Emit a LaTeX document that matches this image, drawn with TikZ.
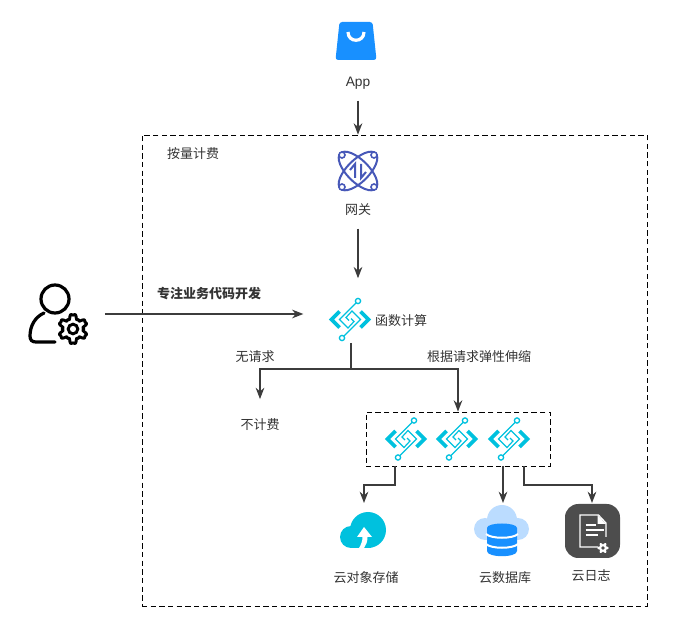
\documentclass[tikz,border=0pt]{standalone}
\usepackage{fontspec}
\setmainfont{Noto Sans CJK SC}
\newfontfamily\latinfont{Liberation Sans}
\usetikzlibrary{arrows.meta, positioning}
\definecolor{bagblue}{HTML}{1890FF}
\definecolor{gwblue}{HTML}{4758B8}
\definecolor{fncyan}{HTML}{00C1DE}
\definecolor{cloudlight}{HTML}{BBDCFF}
\definecolor{logdark}{HTML}{4D4D4D}
\definecolor{txtgray}{HTML}{333333}
\definecolor{linegray}{HTML}{3C3C3C}
\tikzset{%
	every label text/.style={
		inner sep=0pt,
		text height=8.5pt,
		text depth=0.5pt,
		text=txtgray,
		font=\fontsize{9.75pt}{11pt}\selectfont
	},
	iconbox/.style={
		inner sep=0pt,
		minimum size=#1*0.75pt
	},
	conn/.style={
		draw=linegray,
		line width=1.1pt,
		-{Stealth[length=8.5pt,width=6.5pt]}
	},
	dashbox/.style={
		draw=black,
		line width=0.6pt,
		dash pattern=on 4pt off 2.5pt,
		inner sep=0pt
	},
	fnicon/.pic={
		\draw[fncyan, line width=2.8pt, miter limit=4] (-10.5,-8) -- (-18.5,0) -- (-10.5,8);
		\draw[fncyan, line width=2.8pt, miter limit=4] (10.5,-8) -- (18.5,0) -- (10.5,8);
		\draw[fncyan, line width=0.9pt] (8,-18.5) -- (-10.5,0) -- (-2,8.5) -- (4,2) -- (1,-1);
		\draw[fncyan, line width=0.9pt] (-8,18.5) -- (10.5,0) -- (2,-8.5) -- (-4,-2) -- (-1,1);
		\draw[fncyan, line width=1pt, fill=white] (8,-18.5) circle (2.6);
		\draw[fncyan, line width=1pt, fill=white] (-8,18.5) circle (2.6);
	},
	bagicon/.pic={
		\fill[bagblue, rounded corners=2pt] (-16.5,-19) -- (16.5,-19) -- (20.5,19) -- (-20.5,19) -- cycle;
		\draw[white, line width=2.4pt] (-8,-9) .. controls (-8,2) and (8,2) .. (8,-9);
	},
	gwicon/.pic={
		\begin{scope}[rotate=45]
			\draw[gwblue, line width=1.5pt] (0,0) ellipse (25 and 11);
		\end{scope}
		\begin{scope}[rotate=-45]
			\draw[gwblue, line width=1.5pt] (0,0) ellipse (25 and 11);
		\end{scope}
		\foreach \px/\py in {-16/-16, 16/-16, -16/16, 16/16}
			\draw[gwblue, line width=1.2pt, fill=white] (\px,\py) circle (3);
		\draw[gwblue, line width=1.5pt] (-3,7) -- (-3,-7) -- (-8,-1);
		\draw[gwblue, line width=1.5pt] (3,-7) -- (3,7) -- (8,1);
	},
	usericon/.pic={
		\draw[black, line width=2.4pt] (-4,-15) circle (14);
		\draw[black, line width=2.4pt, line cap=round] (-15,-1) .. controls (-24,3) and (-29,12) .. (-29,22) .. controls (-29,26) and (-27,28) .. (-23,28) -- (-4,28);
		\draw[black, line width=2.2pt, fill=white, line join=round] plot[domain=0:360, samples=181] ({14+(12.3+2.4*(-cos(6*\x)+cos(18*\x)/3))*cos(\x)}, {15+(12.3+2.4*(-cos(6*\x)+cos(18*\x)/3))*sin(\x)}) -- cycle;
		\draw[black, line width=2.2pt] (14,15) circle (4.8);
	},
	cloudup/.pic={
		\fill[fncyan] (2,0) circle (18);
		\fill[fncyan] (-15,7) circle (11);
		\fill[fncyan] (-15,8) rectangle (5,18);
		\fill[white] (-2,-3) -- (6,7) -- (1.5,7) .. controls (1.5,12) and (0,15) .. (-2,18) -- (-7,18) .. controls (-5,15) and (-3.5,11) .. (-3.5,7) -- (-9,7) -- cycle;
	},
	clouddb/.pic={
		\fill[cloudlight] (-3,-10) circle (15);
		\fill[cloudlight] (-20,-1) circle (11);
		\fill[cloudlight] (13,-1) circle (11);
		\fill[cloudlight] (-20,-2) rectangle (13,10);
		\fill[bagblue] (-18,-2) .. controls (-18,-8) and (12,-8) .. (12,-2) -- (12,21) .. controls (12,28) and (-18,28) .. (-18,21) -- cycle;
		\draw[white, line width=1.5pt] (-19,4) .. controls (-14,9) and (8,9) .. (13,4);
		\draw[white, line width=1.5pt] (-19,14) .. controls (-14,19) and (8,19) .. (13,14);
	},
	logicon/.pic={
		\fill[logdark, rounded corners=10pt] (-27.5,-27) rectangle (27.5,27);
		\draw[white, line width=0.9pt] (5.5,16) -- (-12.5,16) -- (-12.5,-16) -- (6,-16) -- (13.5,-8) -- (13.5,6);
		\fill[white] (5,-16) -- (13.5,-7) -- (5,-7) -- cycle;
		\foreach \ly/\lx in {-6/3, -1/11, 4/5}
			\draw[white, line width=0.9pt] (-7,\ly) -- (\lx,\ly);
		\fill[white] plot[domain=0:360, samples=73] ({10.5+(4.6+1*cos(6*\x))*cos(\x)}, {17+(4.6+1*cos(6*\x))*sin(\x)}) -- cycle;
		\fill[logdark] (10.5,17) circle (1.8);
	},
}

\begin{document}
\begin{tikzpicture}[x=0.75pt, y=-0.75pt]
	\useasboundingbox (0,0) rectangle (694,624);

	% boxes
	\node[dashbox, minimum width=505*0.75pt, minimum height=471*0.75pt] (outer) at (394.5,370.5) {};
	\node[dashbox, minimum width=184*0.75pt, minimum height=54*0.75pt] (group) at (458,439) {};

	% icons
	\node[iconbox=42] (app) at (356,41) {};
	\pic at (app) {bagicon};
	\node[iconbox=42] (gate) at (358,171) {};
	\pic at (gate) {gwicon};
	\node[iconbox=62] (user) at (59,314) {};
	\pic at (user) {usericon};
	\node[iconbox=42] (func) at (350,319.5) {};
	\pic at (func) {fnicon};
	\node[iconbox=42] (funcA) at (406,439) {};
	\pic at (funcA) {fnicon};
	\node[iconbox=42] (funcB) at (457,439) {};
	\pic at (funcB) {fnicon};
	\node[iconbox=42] (funcC) at (509,439) {};
	\pic at (funcC) {fnicon};
	\node[iconbox=40] (store) at (366,530) {};
	\pic at (store) {cloudup};
	\node[iconbox=40] (dbase) at (505,530) {};
	\pic at (dbase) {clouddb};
	\node[iconbox=54] (logs) at (592.5,531) {};
	\pic at (logs) {logicon};

	% labels
	\node[every label text, font=\fontsize{10.3pt}{11pt}\latinfont] (appText) at (358,81) {App};
	\node[every label text] (feeText) at (193,153) {按量计费};
	\node[every label text] (gateText) at (358,209) {网关};
	\node[every label text, font=\fontsize{9.75pt}{11pt}\selectfont\bfseries] (devText) at (209,293) {专注业务代码开发};
	\node[every label text] (funcText) at (401,320) {函数计算};
	\node[every label text] (idleText) at (255,356) {无请求};
	\node[every label text] (scaleText) at (479,356) {根据请求弹性伸缩};
	\node[every label text] (freeText) at (260,424) {不计费};
	\node[every label text] (storeText) at (366,577) {云对象存储};
	\node[every label text] (dbaseText) at (505,577) {云数据库};
	\node[every label text] (logsText) at (591,575) {云日志};

	% connector points
	\coordinate (split) at (351,369);
	\coordinate (splitTop) at (351,343);
	\coordinate (groupA) at (395,466);
	\coordinate (groupB) at (503,466);
	\coordinate (groupC) at (524,466);
	\coordinate (elbowA) at (395,485);
	\coordinate (elbowC) at (524,485);
	\coordinate (storeTop) at (364,503);
	\coordinate (dbaseTop) at (503,503);
	\coordinate (logsTop) at (592,503);

	\draw[conn, shorten <=10pt] (appText.south) -- (appText |- outer.north);
	\draw[conn, shorten <=10pt, shorten >=15pt] (gateText.south) -- (gateText |- func.north);
	\draw[conn, shorten <=11pt, shorten >=19pt] (user.east) -- (user.east -| func.west);
	\draw[conn, -] (splitTop) -- (split);
	\draw[conn] (split) -| ([yshift=14pt]freeText.north);
	\draw[conn] (split) -| (group.north);
	\draw[conn] (groupA) -- (elbowA) -| (storeTop);
	\draw[conn] (groupB) -- (dbaseTop);
	\draw[conn] (groupC) -- (elbowC) -| (logsTop);
\end{tikzpicture}
\end{document}
